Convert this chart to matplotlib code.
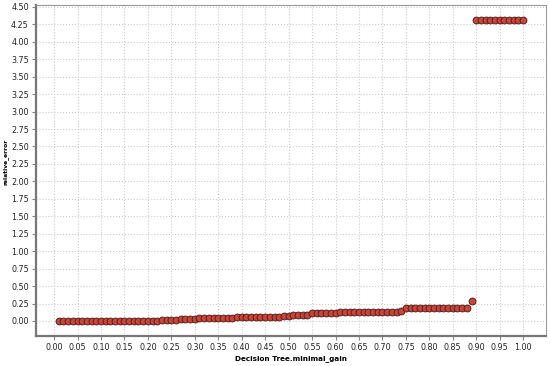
import matplotlib.pyplot as plt
import numpy as np

# parameter values (x) and measured relative error (y)
minimal_gain = [round(0.01 * i, 2) for i in range(1, 101)]
relative_error = [
    0.00, 0.00, 0.00, 0.00, 0.00, 0.00, 0.00, 0.00, 0.00, 0.00,   # 0.01-0.10
    0.00, 0.00, 0.00, 0.00, 0.00, 0.00, 0.00, 0.00, 0.00, 0.00,   # 0.11-0.20
    0.00, 0.00, 0.01, 0.01, 0.02, 0.02, 0.03, 0.03, 0.03, 0.03,   # 0.21-0.30
    0.04, 0.04, 0.04, 0.04, 0.04, 0.04, 0.04, 0.04, 0.05, 0.05,   # 0.31-0.40
    0.05, 0.05, 0.05, 0.05, 0.05, 0.05, 0.06, 0.06, 0.07, 0.07,   # 0.41-0.50
    0.08, 0.08, 0.08, 0.09, 0.11, 0.11, 0.11, 0.11, 0.12, 0.12,   # 0.51-0.60
    0.13, 0.13, 0.13, 0.13, 0.13, 0.13, 0.13, 0.13, 0.13, 0.13,   # 0.61-0.70
    0.13, 0.13, 0.13, 0.14, 0.18, 0.18, 0.18, 0.18, 0.18, 0.18,   # 0.71-0.80
    0.18, 0.18, 0.18, 0.18, 0.18, 0.18, 0.18, 0.18, 0.29, 4.31,   # 0.81-0.90
    4.31, 4.31, 4.31, 4.31, 4.31, 4.31, 4.31, 4.31, 4.31, 4.31,   # 0.91-1.00
]

x_ticks = np.round(np.arange(0, 1.0001, 0.05), 2)
y_ticks = np.round(np.arange(0, 4.5001, 0.25), 2)

fig = plt.figure(figsize=(5.5, 3.66), dpi=100)
ax = fig.add_axes([0.065, 0.082, 0.928, 0.905])

ax.scatter(minimal_gain, relative_error, s=24, color='#c8463c',
           edgecolor='#5a1e18', linewidth=0.7, zorder=3)

ax.set_xlim(-0.039, 1.049)
ax.set_ylim(-0.215, 4.53)
ax.set_xticks(x_ticks)
ax.set_xticklabels([f'{v:.2f}' for v in x_ticks])
ax.set_yticks(y_ticks)
ax.set_yticklabels([f'{v:.2f}' for v in y_ticks])
ax.tick_params(labelsize=5.8, length=3, pad=2, color='#888888', labelcolor='#222222')

ax.grid(True, color='#cccccc', linestyle=':', linewidth=0.8)
ax.set_axisbelow(True)

for side in ['top', 'right']:
    ax.spines[side].set_color('#999999')
    ax.spines[side].set_linewidth(0.8)
for side in ['left', 'bottom']:
    ax.spines[side].set_color('#777777')
    ax.spines[side].set_linewidth(1.6)

ax.set_xlabel('Decision Tree.minimal_gain', fontsize=5.2, fontweight='bold', labelpad=2)
ax.set_ylabel('relative_error', fontsize=4.3, fontweight='bold')
ax.yaxis.set_label_coords(-0.054, 0.525)

fig.savefig('out.png', dpi=100)
